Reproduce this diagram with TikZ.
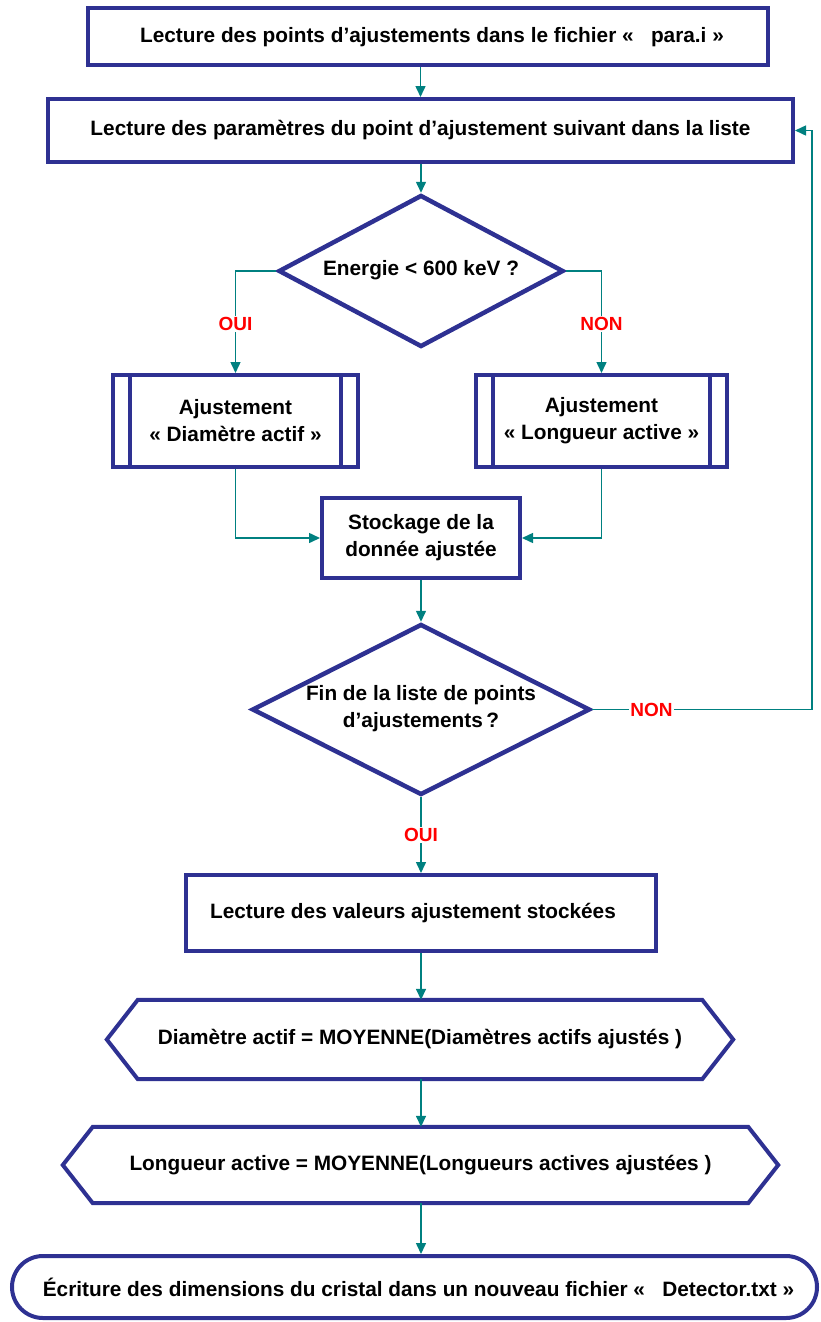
\documentclass[tikz,border=0pt]{standalone}
\usepackage{fontspec}
\setmainfont{Liberation Sans}
\usetikzlibrary{arrows.meta,shapes.geometric,shapes.misc}
\definecolor{navy}{RGB}{46,49,146}
\definecolor{conn}{RGB}{0,128,128}
\definecolor{labred}{RGB}{255,0,0}
\begin{document}
\begin{tikzpicture}[x=1pt,y=-1pt,
  txt/.style={font=\fontsize{20.8}{27}\selectfont\bfseries,align=center},
  box/.style={txt,draw=navy,line width=4pt,fill=white,inner sep=0pt,rectangle},
  dec/.style={txt,draw=navy,line width=4.5pt,fill=white,inner sep=0pt,diamond},
  blank/.style={txt,inner sep=0pt,rectangle},
  navyline/.style={draw=navy,line width=4pt,line join=miter},
  arr/.style={draw=conn,line width=1.5pt,-{Triangle[length=11pt,width=10pt]}},
  lab/.style={font=\fontsize{19}{22}\selectfont\bfseries,text=labred,fill=white,inner sep=1pt}]
\useasboundingbox (0,0) rectangle (821,1322);
% nodes
\node[box,minimum width=680pt,minimum height=57pt] (b1) at (428,37) {\hspace*{8pt}Lecture des points d’ajustements dans le fichier «\ \ \ para.i »};
\node[box,minimum width=745pt,minimum height=63pt] (b2) at (420.5,130.5) {Lecture des paramètres du point d’ajustement suivant dans la liste};
\node[dec,minimum width=285pt,minimum height=152pt] (d1) at (421,271) {};
\node[txt] (d1t) at (421,270) {Energie < 600\ keV ?};
\node[box,minimum width=245pt,minimum height=92pt] (pl) at (235.5,421) {Ajustement\\« Diamètre actif »};
\node[box,minimum width=251pt,minimum height=92pt] (pr) at (601.5,421) {Ajustement\\« Longueur active\ »};
\node[box,minimum width=198pt,minimum height=80pt] (st) at (421,538) {Stockage de la\\donnée ajustée};
\node[dec,minimum width=338pt,minimum height=171pt] (d2) at (421,709.5) {};
\node[txt] (d2t) at (421,709) {Fin de la liste de points\\d’ajustements\,?};
\node[box,minimum width=470pt,minimum height=76pt] (b3) at (421,913) {\hspace*{-16pt}Lecture des valeurs ajustement stockées};
\node[blank,minimum width=626pt,minimum height=79pt] (h1) at (420,1039.5) {};
\draw[navyline] (h1.west) -- ([xshift=31pt]h1.north west) -- ([xshift=-31pt]h1.north east) -- (h1.east) -- ([xshift=-31pt]h1.south east) -- ([xshift=31pt]h1.south west) -- cycle;
\node[txt] at (h1) {Diamètre actif = MOYENNE(Diamètres actifs ajustés )};
\node[blank,minimum width=715pt,minimum height=76pt] (h2) at (420.5,1165) {};
\draw[navyline] (h2.west) -- ([xshift=30pt]h2.north west) -- ([xshift=-30pt]h2.north east) -- (h2.east) -- ([xshift=-30pt]h2.south east) -- ([xshift=30pt]h2.south west) -- cycle;
\node[txt] at (h2) {Longueur active = MOYENNE(Longueurs actives ajustées\ )};
\node[txt,draw=navy,line width=4pt,fill=white,rounded rectangle,inner sep=0pt,minimum width=805pt,minimum height=62pt] (term) at (414.5,1287) {\hspace*{8pt}Écriture des dimensions du cristal dans un nouveau fichier «\ \ \ Detector.txt »};
% inner lines of predefined processes
\draw[navyline] ([xshift=19pt]pl.north west) -- ([xshift=19pt]pl.south west);
\draw[navyline] ([xshift=-19pt]pl.north east) -- ([xshift=-19pt]pl.south east);
\draw[navyline] ([xshift=19pt]pr.north west) -- ([xshift=19pt]pr.south west);
\draw[navyline] ([xshift=-19pt]pr.north east) -- ([xshift=-19pt]pr.south east);
% connectors
\coordinate (fb) at (812,132);
\draw[arr] (b2.north |- b1.south) -- (b2.north);
\draw[arr] (d1.north |- b2.south) -- (d1.north);
\draw[arr] (d1.west) -| node[lab,pos=0.76]{OUI} (pl.north);
\draw[arr] (d1.east) -| node[lab,pos=0.76]{NON} (pr.north);
\draw[arr] (pl.south) |- (st.west);
\draw[arr] (pr.south) |- (st.east);
\draw[arr] (st.south) -- (d2.north);
\draw[arr] (d2.east) -- node[lab,pos=0.27]{NON} (d2.east -| fb) |- (b2.east);
\draw[arr] (d2.south) -- node[lab,pos=0.5]{OUI} (d2.south |- b3.north);
\draw[arr] (b3.south) -- (h1.north -| b3.south);
\draw[arr] (h1.south -| b3.south) -- (h2.north -| b3.south);
\draw[arr] (h2.south -| b3.south) -- (term.north -| b3.south);
\end{tikzpicture}
\end{document}
